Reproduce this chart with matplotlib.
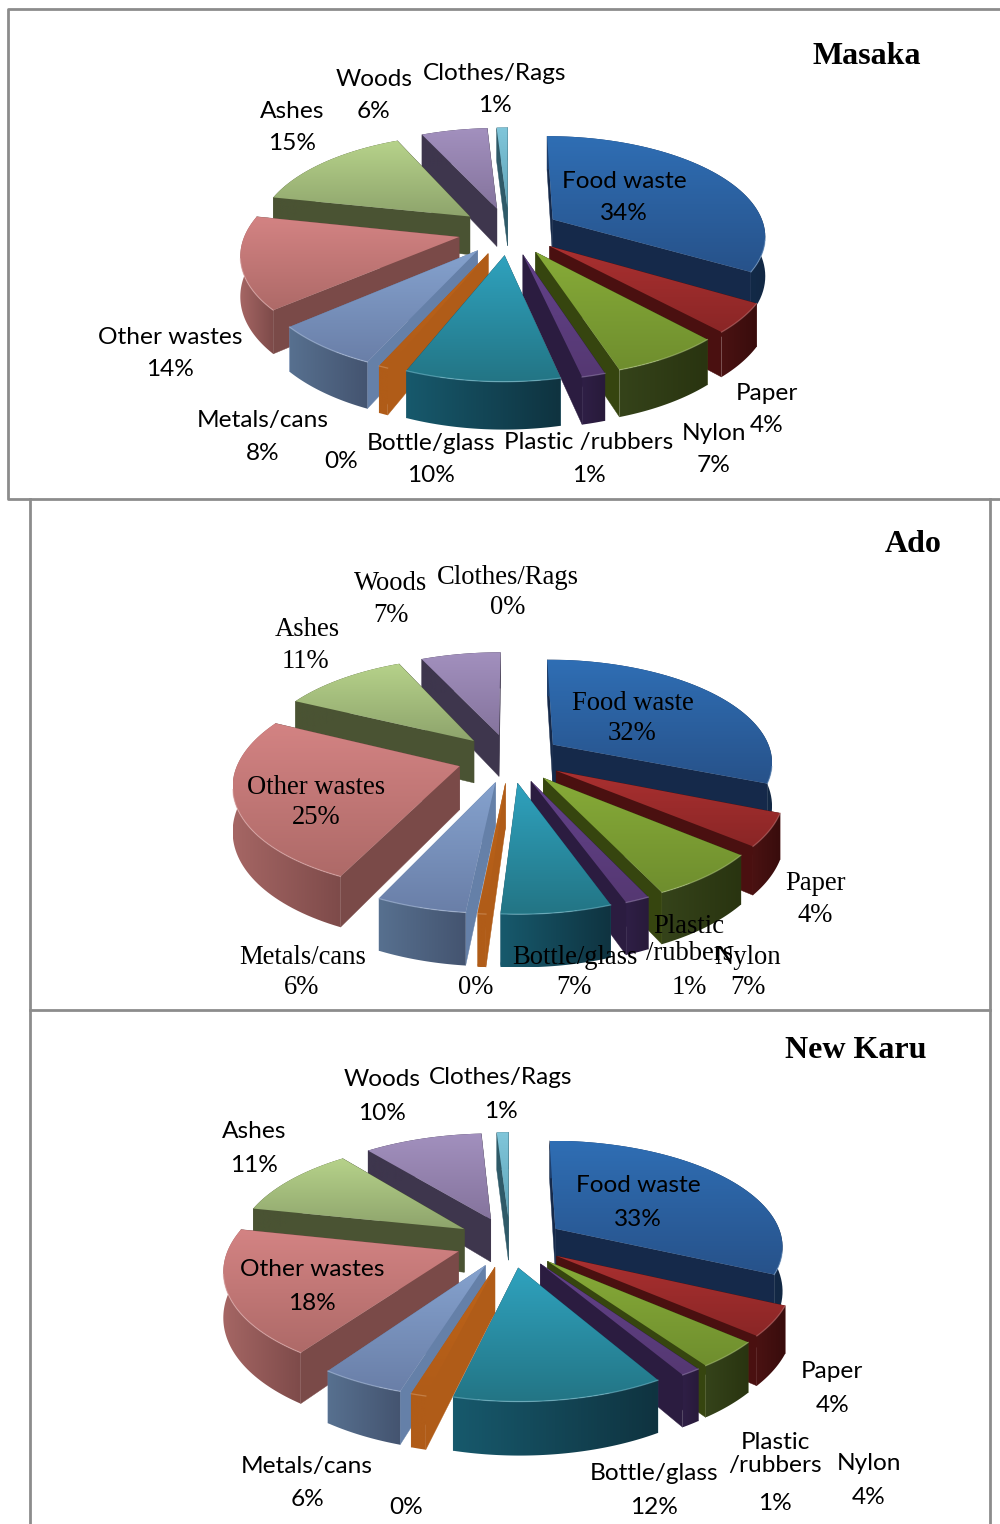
import numpy as np
import matplotlib
matplotlib.use('Agg')
import matplotlib.pyplot as plt
from matplotlib.colors import to_rgb
from matplotlib.patches import Polygon

names = ['Food waste', 'Paper', 'Nylon', 'Plastic /rubbers', 'Bottle/glass', '',
         'Metals/cans', 'Other wastes', 'Ashes', 'Woods', 'Clothes/Rags']

# slice sizes as they look in the picture, the printed percentages are below
masaka_values = [34, 4.7, 7, 1.5, 9.8, 0.6, 7, 14.9, 15, 6, 1]
ado_values = [31.5, 5, 7, 1.5, 6.7, 0.5, 5.5, 25.5, 11, 7, 0]
karu_values = [32.5, 4.5, 4, 1.2, 12.5, 0.9, 5, 19, 11, 10, 1]

masaka_pct = ['34%', '4%', '7%', '1%', '10%', '0%', '8%', '14%', '15%', '6%', '1%']
ado_pct = ['32%', '4%', '7%', '1%', '7%', '0%', '6%', '25%', '11%', '7%', '0%']
karu_pct = ['33%', '4%', '4%', '1%', '12%', '0%', '6%', '18%', '11%', '10%', '1%']

# top colour back, top colour front, cut face, outer wall left, outer wall right
styles = [
    ('#2f6eb4', '#27528a', '#15294a', '#1d3f6e', '#122844'),
    ('#aa3030', '#8a2626', '#4a1010', '#4a1212', '#380c0c'),
    ('#87ab38', '#6f8e2e', '#36450f', '#35431a', '#293410'),
    ('#63428a', '#553872', '#2b1c40', '#2f1f46', '#281a3a'),
    ('#2fa2be', '#237585', '#17556a', '#17596c', '#0f3340'),
    ('#bd6318', '#b05c18', '#b05c18', '#b05c18', '#b05c18'),
    ('#85a2ce', '#6a7fa8', '#6580a8', '#57708f', '#445470'),
    ('#d38383', '#ae6a68', '#7a4a48', '#a56664', '#7e4b4a'),
    ('#b6d28a', '#8ea46c', '#4a5333', '#4a5333', '#4a5333'),
    ('#a290be', '#85749d', '#3e364d', '#3e364d', '#3e364d'),
    ('#80c6da', '#5fa4b8', '#2f5a68', '#2f5a68', '#2f5a68'),
]


def project(u, v, z, pie):
    s = 1 / (1 + pie['p'] * v)
    x = pie['cx'] + pie['R'] * u * s
    y = pie['cy'] - pie['Ry'] * v * s + pie['h'] * z * s
    return x, y


def grad_fill(ax, pts, c1, c2, horizontal, zorder):
    pts = np.array(pts)
    t = np.linspace(0, 1, 64)
    c1, c2 = np.array(to_rgb(c1)), np.array(to_rgb(c2))
    img = c1[None, :] * (1 - t[:, None]) + c2[None, :] * t[:, None]
    img = img[None, :, :] if horizontal else img[:, None, :]
    x0, x1 = pts[:, 0].min(), pts[:, 0].max()
    y0, y1 = pts[:, 1].min(), pts[:, 1].max()
    im = ax.imshow(img, extent=(x0, x1, y1, y0), aspect='auto', zorder=zorder)
    im.set_clip_path(Polygon(pts, transform=ax.transData))


def draw_pie(ax, values, pie):
    total = sum(values)
    edges = np.cumsum([0] + list(values)) / total * 2 * np.pi
    slices = []
    for i, val in enumerate(values):
        if val > 0:
            slices.append((i, edges[i], edges[i + 1]))
    # far slices first
    slices.sort(key=lambda sl: -np.cos((sl[1] + sl[2]) / 2))
    z = 2
    for i, a0, a1 in slices:
        mid = (a0 + a1) / 2
        ox, oy = pie['e'] * np.sin(mid), pie['e'] * np.cos(mid)
        th = np.linspace(a0, a1, 60)
        u = ox + np.sin(th)
        v = oy + np.cos(th)
        top = np.array(project(u, v, 0, pie)).T
        low = np.array(project(u, v, 1, pie)).T
        apex_t = np.array(project(ox, oy, 0, pie))
        apex_l = np.array(project(ox, oy, 1, pie))
        back, front, cut, wall_l, wall_r = styles[i]

        # cut faces, the farther one goes first
        faces = [(top[0], low[0], np.cos(a0)), (top[-1], low[-1], np.cos(a1))]
        faces.sort(key=lambda f: -f[2])
        for t, l, _ in faces:
            ax.add_patch(Polygon([apex_t, t, l, apex_l], fc=cut, ec=cut, lw=0.3, zorder=z))
            z += 1
        # outer wall
        grad_fill(ax, np.vstack([top, low[::-1]]), wall_l, wall_r, True, z)
        z += 1
        # top
        grad_fill(ax, np.vstack([[apex_t], top]), back, front, False, z)
        z += 1
        rim = np.array(to_rgb(back)) * 0.6 + 0.4
        front_part = np.cos(th) < -0.2
        if front_part.sum() > 1:
            ax.plot(top[front_part, 0], top[front_part, 1], color=rim, lw=0.9,
                    alpha=0.5, zorder=z)
            z += 1


def draw_labels(ax, labels, pcts, name_xy, pct_xy, family, size):
    for name, pct, nxy, pxy in zip(labels, pcts, name_xy, pct_xy):
        if name:
            ax.text(nxy[0], nxy[1] + 2, name, family=family, fontsize=size, ha='center',
                    va='center', color='black', linespacing=1.15, zorder=500)
        ax.text(pxy[0], pxy[1] + 2, pct, family=family, fontsize=size, ha='center',
                va='center', color='black', zorder=500)


fig = plt.figure(figsize=(10, 15.24), dpi=100, facecolor='white')
ax = fig.add_axes([0, 0, 1, 1])

# frames
ax.plot([1001, 8, 8, 1001], [9, 9, 499, 499], color='#8c8c8c', lw=2, zorder=1)
ax.plot([30, 30], [499, 1526], color='#8c8c8c', lw=2, zorder=1)
ax.plot([990, 990], [499, 1526], color='#8c8c8c', lw=2, zorder=1)
ax.plot([30, 990], [1010, 1010], color='#8c8c8c', lw=2, zorder=1)

draw_pie(ax, masaka_values, dict(cx=509, cy=231, R=213, Ry=99, p=0.15, h=39, e=0.24))
draw_pie(ax, ado_values, dict(cx=510, cy=758, R=220, Ry=102, p=0.155, h=43, e=0.24))
draw_pie(ax, karu_values, dict(cx=510, cy=1242, R=228, Ry=105, p=0.15, h=44, e=0.24))

masaka_name_xy = [(624, 179), (767, 391), (714, 431), (589, 441), (431, 441), (0, 0),
                  (263, 419), (170, 335), (292, 109), (374, 77), (495, 71)]
masaka_pct_xy = [(624, 212), (767, 424), (714, 464), (589, 473), (431, 473), (341, 460),
                 (263, 452), (170, 368), (292, 142), (374, 110), (495, 104)]
draw_labels(ax, names, masaka_pct, masaka_name_xy, masaka_pct_xy, 'Lato', 17.6)

ado_names = list(names)
ado_names[3] = 'Plastic\n/rubbers'
ado_name_xy = [(633, 701), (815, 882), (748, 955), (689, 938), (575, 956), (0, 0),
               (303, 955), (316, 785), (307, 628), (391, 582), (508, 576)]
ado_pct_xy = [(632, 731), (815, 913), (748, 985), (689, 985), (574, 985), (476, 985),
              (302, 985), (316, 815), (305, 659), (391, 613), (508, 605)]
draw_labels(ax, ado_names, ado_pct, ado_name_xy, ado_pct_xy, 'Liberation Serif', 19.2)

karu_names = list(names)
karu_names[3] = 'Plastic\n/rubbers'
karu_name_xy = [(638, 1184), (832, 1370), (869, 1462), (775, 1452), (654, 1472), (0, 0),
                (307, 1464), (312, 1268), (254, 1130), (382, 1078), (501, 1076)]
karu_pct_xy = [(638, 1217), (833, 1403), (869, 1495), (775, 1501), (654, 1505), (406, 1505),
               (307, 1497), (312, 1301), (254, 1163), (382, 1111), (501, 1109)]
draw_labels(ax, karu_names, karu_pct, karu_name_xy, karu_pct_xy, 'Lato', 17.6)

ax.text(867, 56, 'Masaka', family='Liberation Serif', fontweight='bold', fontsize=23,
        ha='center', va='center', zorder=500)
ax.text(913, 544, 'Ado', family='Liberation Serif', fontweight='bold', fontsize=23,
        ha='center', va='center', zorder=500)
ax.text(856, 1050, 'New Karu', family='Liberation Serif', fontweight='bold', fontsize=23,
        ha='center', va='center', zorder=500)

ax.set_xlim(0, 1000)
ax.set_ylim(1524, 0)
ax.axis('off')
fig.savefig('out.png', dpi=100, facecolor='white')
